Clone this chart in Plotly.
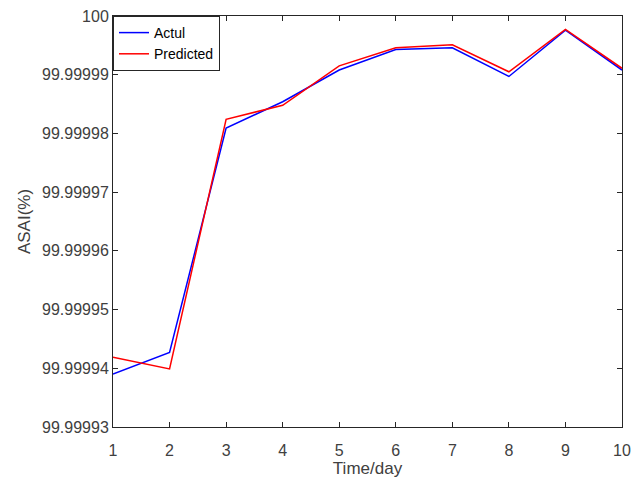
import plotly.graph_objects as go

days = [1, 2, 3, 4, 5, 6, 7, 8, 9, 10]
actual = [99.9999390, 99.9999427, 99.9999809, 99.9999854, 99.9999908,
          99.9999943, 99.9999946, 99.9999897, 99.9999976, 99.9999908]
predicted = [99.9999419, 99.9999399, 99.9999824, 99.9999848, 99.9999915,
             99.9999946, 99.9999951, 99.9999905, 99.9999977, 99.9999911]
ytick_vals = [99.99993, 99.99994, 99.99995, 99.99996, 99.99997, 99.99998, 99.99999, 100.0]
ytick_text = ["99.99993", "99.99994", "99.99995", "99.99996", "99.99997", "99.99998", "99.99999", "100"]
xtick_vals = days

font_family = "Liberation Sans, Arial, sans-serif"
axis_color = "#262626"
text_color = "#404040"

fig = go.Figure()
fig.add_trace(go.Scatter(x=days, y=actual, mode="lines", name="Actul",
                         line=dict(color="#0000ff", width=1.5)))
fig.add_trace(go.Scatter(x=days, y=predicted, mode="lines", name="Predicted",
                         line=dict(color="#ff0000", width=1.5)))

fig.update_layout(
    width=632, height=480,
    margin=dict(l=113, r=10, t=16, b=53),
    paper_bgcolor="white", plot_bgcolor="white",
    font=dict(family=font_family, size=16, color=text_color),
    showlegend=True,
    legend=dict(x=0, y=1, xanchor="left", yanchor="top",
                bgcolor="white", bordercolor=axis_color, borderwidth=1,
                font=dict(size=14, color="#000000"),
                tracegroupgap=0, itemwidth=30),
    xaxis=dict(range=[1, 10], tickvals=xtick_vals, ticks="inside", ticklen=5,
               tickcolor=axis_color, showline=True, linecolor=axis_color, linewidth=1,
               mirror="ticks", showgrid=False, zeroline=False, ticklabelstandoff=9,
               automargin=False,
               title=dict(text="Time/day", standoff=2, font=dict(size=17, color=text_color)),
               tickfont=dict(size=16, color=text_color)),
    yaxis=dict(range=[99.99993, 100.0], tickvals=ytick_vals, ticktext=ytick_text,
               ticks="inside", ticklen=5, tickcolor=axis_color,
               showline=True, linecolor=axis_color, linewidth=1,
               mirror="ticks", showgrid=False, zeroline=False, automargin=False,
               title=dict(text="ASAI(%)", standoff=7, font=dict(size=17, color=text_color)),
               tickfont=dict(size=16, color=text_color)),
)

fig.write_html("out.html")
